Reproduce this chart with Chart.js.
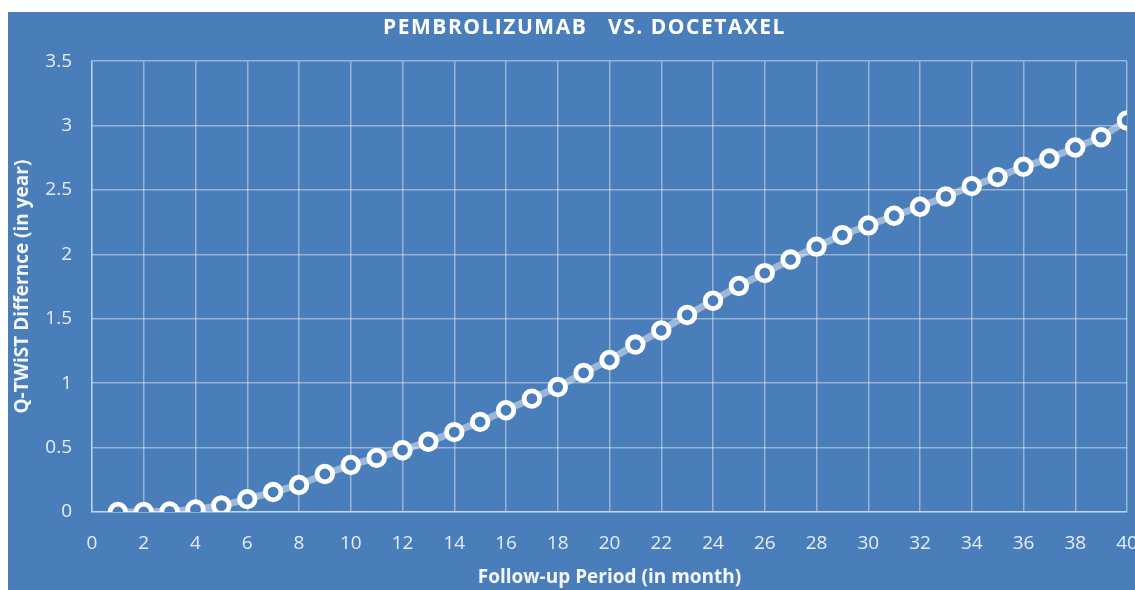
<!DOCTYPE html>
<html>
<head>
<meta charset="utf-8">
<script src="https://cdn.jsdelivr.net/npm/chart.js@4"></script>
<style>
  html, body { margin: 0; padding: 0; background: #fff; overflow: hidden; width: 1135px; height: 590px; }
  #wrap { position: absolute; left: 8px; top: 12px; width: 1152px; height: 578px; background: #4a7ebb; }
</style>
</head>
<body>
<div id="wrap"><canvas id="chart"></canvas></div>
<script>
// follow-up months and Q-TWiST difference (years)
const months = [1, 2, 3, 4, 5, 6, 7, 8, 9, 10,
  11, 12, 13, 14, 15, 16, 17, 18, 19, 20,
  21, 22, 23, 24, 25, 26, 27, 28, 29, 30,
  31, 32, 33, 34, 35, 36, 37, 38, 39, 40];
const qtwistDiff = [0.0, 0.0, 0.005, 0.02, 0.05, 0.10, 0.155, 0.21, 0.295, 0.365,
  0.42, 0.48, 0.545, 0.62, 0.70, 0.79, 0.88, 0.97, 1.08, 1.18,
  1.30, 1.41, 1.53, 1.64, 1.755, 1.855, 1.96, 2.06, 2.15, 2.225,
  2.30, 2.37, 2.45, 2.53, 2.60, 2.68, 2.745, 2.83, 2.91, 3.04];

const chartTitle = "PEMBROLIZUMAB   VS. DOCETAXEL";
const xTitle = "Follow-up Period (in month)";
const yTitle = "Q-TWiST Differnce (in year)";

const BG = "#4a7ebb";
const GRID = "rgba(255,255,255,0.42)";
const TICK = "#e6edf6";
const FONT = "'Open Sans', 'Liberation Sans', sans-serif";

// the title in the original is letter-spaced; wrap the title box draw
const spacedTitle = {
  id: "spacedTitle",
  beforeDraw(chart) {
    const tb = chart.titleBlock;
    if (!tb || tb._spaced) return;
    const orig = tb.draw.bind(tb);
    tb.draw = function () {
      const c = chart.ctx;
      c.save();
      c.letterSpacing = "1.5px";
      orig();
      c.restore();
    };
    tb._spaced = true;
  }
};

new Chart(document.getElementById("chart"), {
  type: "line",
  data: {
    datasets: [{
      label: "Q-TWiST",
      data: months.map((m, i) => ({ x: m, y: qtwistDiff[i] })),
      borderColor: "rgba(255,255,255,0.45)",
      borderWidth: 7,
      pointRadius: 7.8,
      pointBorderWidth: 4.8,
      pointBorderColor: "#ffffff",
      pointBackgroundColor: BG,
      tension: 0
    }]
  },
  plugins: [spacedTitle],
  options: {
    responsive: true,
    maintainAspectRatio: false,
    animation: false,
    layout: { padding: { left: 34, top: 0, right: 33, bottom: 0 } },
    plugins: {
      legend: { display: false },
      tooltip: { enabled: false },
      title: {
        display: true,
        text: chartTitle,
        color: "#ffffff",
        font: { family: FONT, size: 21, weight: "bold" },
        padding: { top: 3, bottom: 21 }
      }
    },
    scales: {
      x: {
        type: "linear",
        min: 0, max: 40,
        afterFit: s => { s.height = 78; },
        grid: { color: GRID, lineWidth: 1.5, drawTicks: false },
        border: { color: GRID, width: 1.5 },
        ticks: { stepSize: 2, color: TICK, padding: 20, font: { family: FONT, size: 19 } },
        title: {
          display: true, text: xTitle, color: "#f4f7fb",
          font: { family: FONT, size: 19, weight: "bold" },
          padding: { top: 0, bottom: 1 }
        }
      },
      y: {
        min: 0, max: 3.5,
        afterFit: s => { s.width = 50; },
        grid: { color: GRID, lineWidth: 1.5, drawTicks: false },
        border: { color: GRID, width: 1.5 },
        ticks: {
          stepSize: 0.5, color: TICK, padding: 20,
          font: { family: FONT, size: 19 },
          callback: v => String(v)
        },
        title: {
          display: true, text: yTitle, color: "#f4f7fb",
          font: { family: FONT, size: 19, weight: "bold" },
          padding: { top: -31, bottom: 0 }
        }
      }
    }
  }
});
</script>
</body>
</html>
